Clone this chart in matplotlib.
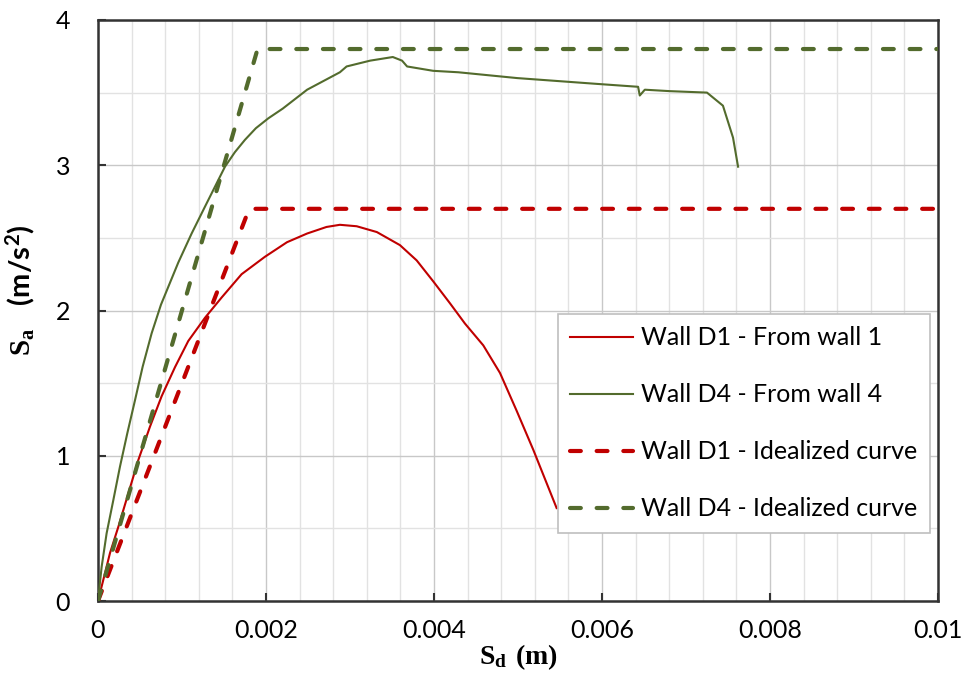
import matplotlib
matplotlib.use("Agg")
import matplotlib.pyplot as plt
from matplotlib.ticker import MultipleLocator, FuncFormatter

# Capacity curves (spectral displacement in m, spectral acceleration in m/s^2)
d1_sd = [0, 0.000083, 0.000143, 0.000242, 0.000361, 0.00048, 0.000619, 0.000758,
         0.000917, 0.001075, 0.001274, 0.001473, 0.00171, 0.001988, 0.00225,
         0.00249, 0.00272, 0.00288, 0.00308, 0.00332, 0.003595, 0.003794,
         0.003992, 0.00419, 0.004369, 0.004587, 0.004786, 0.004984, 0.005183,
         0.00546]
d1_sa = [0, 0.19, 0.33, 0.51, 0.74, 0.97, 1.20, 1.41,
         1.61, 1.79, 1.95, 2.09, 2.25, 2.37, 2.47,
         2.53, 2.575, 2.59, 2.58, 2.54, 2.45, 2.345,
         2.20, 2.05, 1.91, 1.76, 1.57, 1.31, 1.04,
         0.64]

d4_sd = [0, 0.000044, 0.000103, 0.000183, 0.000262, 0.000349, 0.00044, 0.000532,
         0.000639, 0.00075, 0.000956, 0.001115, 0.001274, 0.001512, 0.00163,
         0.00175, 0.00188, 0.002028, 0.0022, 0.00249, 0.00288, 0.00296, 0.00324,
         0.00351, 0.00362, 0.00368, 0.00399, 0.00429, 0.00499, 0.00594, 0.00643,
         0.00645, 0.00651, 0.00681, 0.00725, 0.00744, 0.00756, 0.00762]
d4_sa = [0, 0.236, 0.466, 0.695, 0.925, 1.154, 1.38, 1.613,
         1.843, 2.04, 2.33, 2.53, 2.715, 2.99, 3.09,
         3.175, 3.255, 3.323, 3.39, 3.52, 3.64, 3.68, 3.72,
         3.745, 3.72, 3.68, 3.65, 3.64, 3.60, 3.56, 3.54,
         3.48, 3.52, 3.51, 3.50, 3.41, 3.19, 2.99]

# Bilinear idealizations
d1_ideal_sd = [0, 0.0018, 0.01]
d1_ideal_sa = [0, 2.7, 2.7]
d4_ideal_sd = [0, 0.0019, 0.01]
d4_ideal_sa = [0, 3.8, 3.8]

labels = ["Wall D1 - From wall 1", "Wall D4 - From wall 4",
          "Wall D1 - Idealized curve", "Wall D4 - Idealized curve"]

RED = "#C00000"
GREEN = "#536B2D"

plt.rcParams["font.family"] = ["Lato", "DejaVu Sans"]
plt.rcParams["mathtext.fontset"] = "custom"
plt.rcParams["mathtext.bf"] = "Liberation Serif:bold"
plt.rcParams["mathtext.rm"] = "Liberation Serif"
plt.rcParams["mathtext.sf"] = "Lato:bold"

fig = plt.figure(figsize=(9.68, 6.84), dpi=100)
ax = fig.add_axes([0.1012, 0.1213, 0.8678, 0.8495])

ax.plot(d1_sd, d1_sa, color=RED, lw=1.5, label=labels[0], zorder=3,
        solid_joinstyle="round")
ax.plot(d4_sd, d4_sa, color=GREEN, lw=1.5, label=labels[1], zorder=3,
        solid_joinstyle="round")
ax.plot(d1_ideal_sd, d1_ideal_sa, color=RED, lw=3, dashes=(2.6, 3.8),
        dash_capstyle="round", label=labels[2], zorder=3)
ax.plot(d4_ideal_sd, d4_ideal_sa, color=GREEN, lw=3, dashes=(2.6, 3.8),
        dash_capstyle="round", label=labels[3], zorder=3)

ax.set_xlim(0, 0.01)
ax.set_ylim(0, 4)
ax.xaxis.set_major_locator(MultipleLocator(0.002))
ax.xaxis.set_minor_locator(MultipleLocator(0.0004))
ax.yaxis.set_major_locator(MultipleLocator(1))
ax.yaxis.set_minor_locator(MultipleLocator(0.5))


def x_fmt(v, pos):
    if abs(v) < 1e-12:
        return "0"
    return f"{v:.3f}".rstrip("0").rstrip(".")


ax.xaxis.set_major_formatter(FuncFormatter(x_fmt))
ax.yaxis.set_major_formatter(FuncFormatter(lambda v, p: f"{v:.0f}"))

ax.grid(which="major", color="#c8c8c8", lw=1.0, zorder=0)
ax.grid(which="minor", color="#e2e2e2", lw=1.0, zorder=0)
ax.set_axisbelow(True)

for s in ax.spines.values():
    s.set_color("#333333")
    s.set_linewidth(1.8)

ax.tick_params(which="major", direction="in", length=6, width=1.5, color="#333333",
               labelsize=18, labelcolor="black")
ax.tick_params(which="minor", length=0)
ax.tick_params(axis="x", pad=13)
ax.tick_params(axis="y", pad=20)

ax.set_xlabel(r"$\mathbf{S_d\ (m)}$", fontsize=20, labelpad=0)
ax.set_ylabel(r"$\mathbf{S_a}\;\;\;\mathsf{(m/s^2)}$", fontsize=21, labelpad=6)
ax.yaxis.set_label_coords(-0.072, 0.535)

leg = ax.legend(loc="upper left", bbox_to_anchor=(0.5476, 0.494), borderaxespad=0,
                fontsize=18, frameon=True, fancybox=False, framealpha=1,
                edgecolor="#bfbfbf", handlelength=2.5, handletextpad=0.34,
                labelspacing=1.36, borderpad=0.5)
leg.get_frame().set_linewidth(1.2)

fig.savefig("out.png", dpi=100)
